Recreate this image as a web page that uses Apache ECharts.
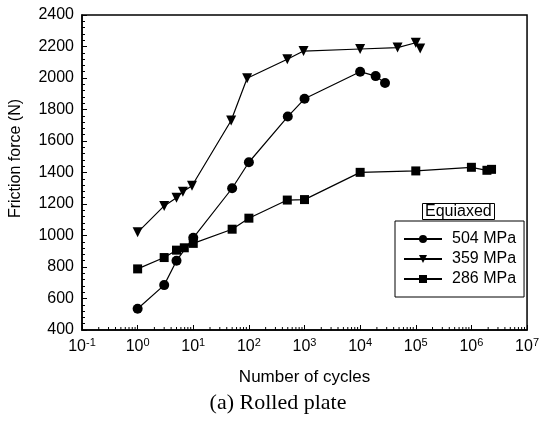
<!DOCTYPE html>
<html>
<head>
<meta charset="utf-8">
<script src="https://cdn.jsdelivr.net/npm/echarts@6/dist/echarts.min.js"></script>
<style>
  html, body { margin: 0; padding: 0; background: #fff; }
  #chart { width: 542px; height: 425px; }
</style>
</head>
<body>
<div id="chart"></div>
<script>
// cycles / friction force (N)
const cycles504 = [1, 3, 5, 10, 50, 100, 500, 1000, 10000, 19000, 28000];
const force504 = [535, 685, 840, 985, 1300, 1465, 1755, 1868, 2040, 2012, 1968];

const cycles359 = [1, 3, 5, 6.5, 9.5, 48, 93, 490, 960, 10000, 47000, 100000, 120000];
const force359 = [1020, 1188, 1240, 1278, 1316, 1730, 1998, 2119, 2171, 2184, 2193, 2224, 2188];

const cycles286 = [1, 3, 5, 6.9, 10, 50, 100, 490, 1000, 10000, 100000, 1000000, 1900000, 2300000];
const force286 = [788, 860, 907, 922, 950, 1040, 1110, 1225, 1228, 1401, 1410, 1433, 1414, 1420];

const seriesNames = ['504 MPa', '359 MPa', '286 MPa'];
const decades = [0.1, 1, 10, 100, 1000, 10000, 100000, 1000000];
const minorSteps = [2, 3, 4, 5, 6, 7, 8, 9];

const pairs = (xs, ys) => xs.map((x, i) => [x, ys[i]]);

const minorTicks = [];
decades.forEach(d => minorSteps.forEach(m => minorTicks.push([d * m, 400])));

const chart = echarts.init(document.getElementById('chart'));

const font = 'Arial, "Liberation Sans", sans-serif';
const lineStyle = { color: '#000', width: 1.2 };

const option = {
    animation: false,
    backgroundColor: '#fff',
    textStyle: { fontFamily: font, color: '#000' },
    title: {
        text: 'Equiaxed',
        left: 422,
        top: 203,
        padding: [1, 3, 0, 3],
        borderColor: '#000',
        borderWidth: 1,
        backgroundColor: '#fff',
        textStyle: { fontFamily: font, fontSize: 16, fontWeight: 'normal', color: '#000' }
    },
    legend: {
        data: seriesNames,
        orient: 'vertical',
        left: 395,
        top: 221,
        itemWidth: 38,
        itemHeight: 10,
        itemGap: 4,
        padding: [10, 8, 10, 8],
        borderColor: '#000',
        borderWidth: 1,
        backgroundColor: '#fff',
        textStyle: { fontFamily: font, fontSize: 16, color: '#000', padding: [0, 0, 0, 5] }
    },
    grid: {
        left: 81,
        right: 10,
        top: 15,
        bottom: 95,
        show: true,
        borderColor: '#000',
        borderWidth: 1.5,
        backgroundColor: 'transparent'
    },
    xAxis: {
        type: 'log',
        logBase: 10,
        min: 0.1,
        max: 10000000,
        name: 'Number of cycles',
        nameLocation: 'middle',
        nameGap: 39,
        nameTextStyle: { fontFamily: font, fontSize: 17, color: '#000' },
        axisLine: { lineStyle: { color: '#000', width: 1.5 } },
        axisTick: { show: true, inside: true, length: 5, lineStyle: { color: '#000' } },
        splitLine: { show: false },
        minorTick: { show: false },
        axisLabel: {
            margin: 7,
            color: '#000',
            formatter: v => '{b|10}{s|' + Math.round(Math.log10(v)) + '}',
            rich: {
                b: { fontFamily: font, fontSize: 16, color: '#000' },
                s: { fontFamily: font, fontSize: 11, color: '#000', verticalAlign: 'top', padding: [0, 0, 8, 0] }
            }
        }
    },
    yAxis: {
        type: 'value',
        min: 400,
        max: 2400,
        interval: 200,
        name: 'Friction force (N)',
        nameLocation: 'middle',
        nameGap: 58,
        nameTextStyle: { fontFamily: font, fontSize: 16, color: '#000', padding: [0, 0, 0, 28] },
        axisLine: { show: true, lineStyle: { color: '#000', width: 1.5 } },
        axisTick: { show: true, inside: true, length: 5, lineStyle: { color: '#000' } },
        minorTick: { show: true, splitNumber: 5, length: 3, lineStyle: { color: '#000' } },
        splitLine: { show: false },
        axisLabel: { fontFamily: font, fontSize: 16, color: '#000', margin: 8, formatter: v => String(v) }
    },
    series: [
        {
            name: seriesNames[0],
            type: 'line',
            data: pairs(cycles504, force504),
            symbol: 'circle',
            symbolSize: 10,
            itemStyle: { color: '#000' },
            lineStyle: lineStyle
        },
        {
            name: seriesNames[1],
            type: 'line',
            data: pairs(cycles359, force359),
            symbol: 'triangle',
            symbolRotate: 180,
            symbolSize: 10,
            itemStyle: { color: '#000' },
            lineStyle: lineStyle
        },
        {
            name: seriesNames[2],
            type: 'line',
            data: pairs(cycles286, force286),
            symbol: 'rect',
            symbolSize: 9,
            itemStyle: { color: '#000' },
            lineStyle: lineStyle
        },
        {
            // minor log ticks on the x axis
            type: 'custom',
            silent: true,
            data: minorTicks,
            renderItem: (params, api) => {
                const p = api.coord([api.value(0), api.value(1)]);
                return {
                    type: 'line',
                    shape: { x1: p[0], y1: p[1], x2: p[0], y2: p[1] - 3 },
                    style: { stroke: '#000', lineWidth: 1 }
                };
            }
        }
    ],
    graphic: [
        {
            type: 'text',
            x: 278,
            y: 403,
            style: {
                text: '(a) Rolled plate',
                fontFamily: '"Liberation Serif", "Times New Roman", serif',
                fontSize: 22,
                fill: '#000',
                align: 'center',
                verticalAlign: 'middle'
            }
        }
    ]
};

chart.setOption(option);
</script>
</body>
</html>
